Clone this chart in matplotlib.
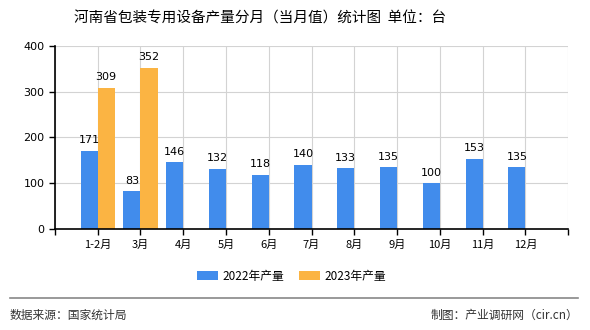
import numpy as np
import matplotlib
matplotlib.use('Agg')
import matplotlib.pyplot as plt

plt.rcParams['font.family'] = ['Noto Sans CJK SC', 'DejaVu Sans']

months = ['1-2月', '3月', '4月', '5月', '6月', '7月', '8月', '9月', '10月', '11月', '12月']
prod_2022 = [171, 83, 146, 132, 118, 140, 133, 135, 100, 153, 135]
prod_2023 = [309, 352]

blue = '#418CEC'
orange = '#FBB443'

fig = plt.figure(figsize=(5.9, 3.3), dpi=100)
ax = fig.add_axes([0.093, 0.306, 0.870, 0.555])

x = np.arange(len(months))
w = 0.4
ax.bar(x - w / 2, prod_2022, w, color=blue, label='2022年产量', zorder=2)
ax.bar(x[:len(prod_2023)] + w / 2, prod_2023, w, color=orange, label='2023年产量', zorder=2)

# value labels
for xi, v in zip(x, prod_2022):
    ax.text(xi - w / 2, v + 12, str(v), ha='center', va='bottom', fontsize=8, family='DejaVu Sans')
for xi, v in zip(x, prod_2023):
    ax.text(xi + w / 2, v + 12, str(v), ha='center', va='bottom', fontsize=8, family='DejaVu Sans')

ax.set_xlim(-1, len(months))
ax.set_ylim(0, 400)
ax.set_yticks([0, 100, 200, 300, 400])
ax.set_xticks(np.arange(-1, len(months) + 1))
ax.set_xticklabels([''] + months + [''])
ax.tick_params(axis='both', labelsize=8, length=4, width=1, colors='black')
for lab in ax.get_yticklabels():
    lab.set_family('DejaVu Sans')
ax.grid(True, color='#d3d3d3', linewidth=0.8, zorder=0)
ax.set_axisbelow(True)
for s in ['top', 'right']:
    ax.spines[s].set_visible(False)
ax.spines['left'].set_linewidth(1.2)
ax.spines['bottom'].set_linewidth(1.2)

fig.text(0.441, 0.945, '河南省包装专用设备产量分月（当月值）统计图  单位：台', ha='center', va='center', fontsize=10.5)

handles, labels = ax.get_legend_handles_labels()
fig.legend(handles, labels, loc='center', bbox_to_anchor=(0.494, 0.163), ncol=2, frameon=False,
           fontsize=8.5, handlelength=1.8, handleheight=0.8, handletextpad=0.35, columnspacing=1.3)

fig.add_artist(plt.Line2D([0.017, 0.98], [0.097, 0.097], color='#888888', linewidth=1.2))
fig.text(0.017, 0.045, '数据来源：国家统计局', ha='left', va='center', fontsize=8.5, color='#333333')
fig.text(0.98, 0.045, '制图：产业调研网（cir.cn）', ha='right', va='center', fontsize=8.5, color='#333333')

fig.savefig('out.png', dpi=100)
